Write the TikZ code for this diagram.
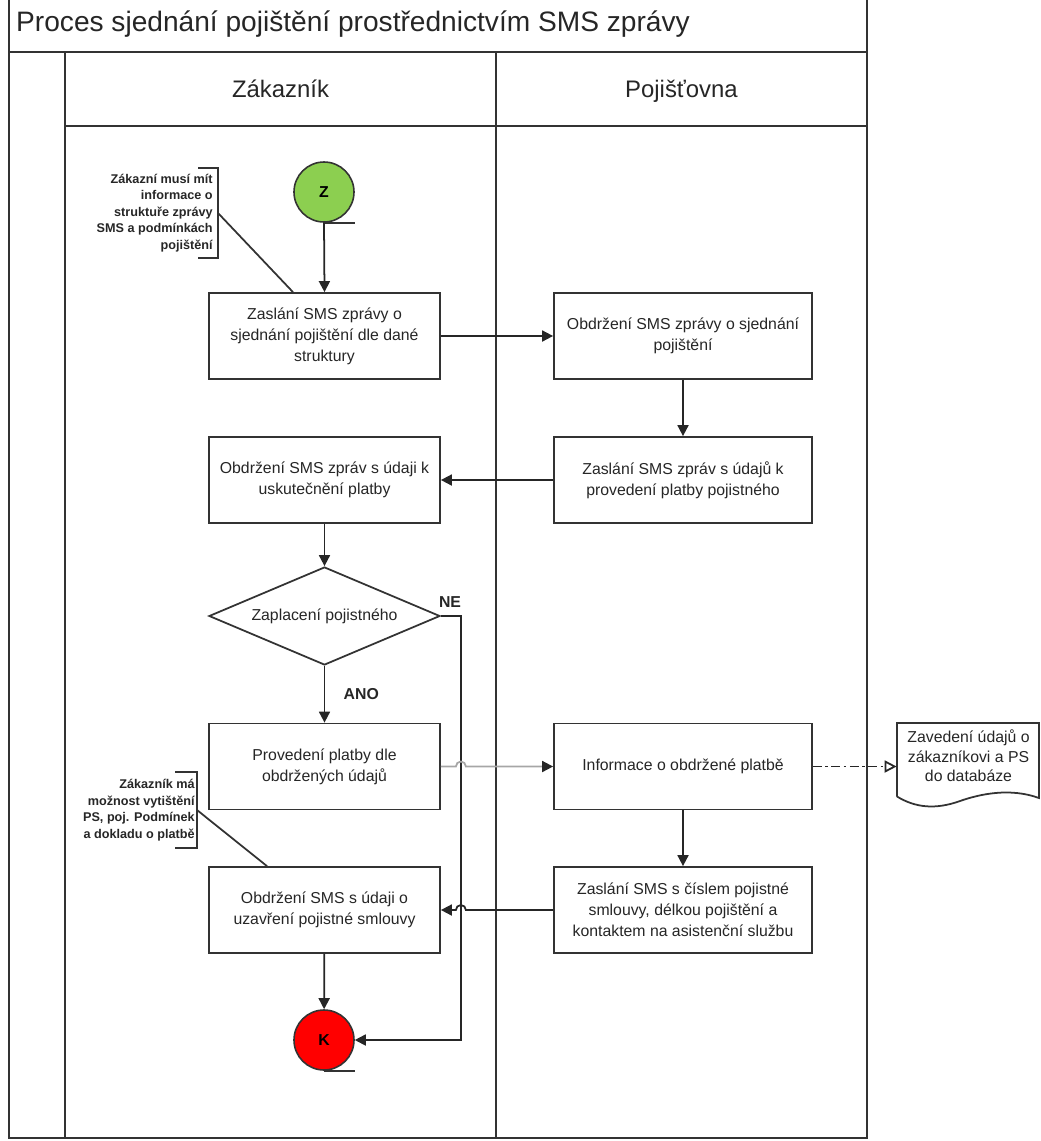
\documentclass[tikz,border=0pt]{standalone}
\usepackage{fontspec}
\setmainfont{Liberation Sans}
\usetikzlibrary{shapes.geometric,arrows.meta}

% looks used in the picture
\tikzset{
  lane/.style={draw=black!80, line width=1pt},
  lanehead/.style={anchor=base, text=black!85, font=\fontsize{13.6}{16}\selectfont},
  process/.style={draw=black!80, line width=1pt, fill=white, text=black!85,
    minimum width=4.62cm, minimum height=1.72cm, align=center,
    font=\fontsize{9}{12}\selectfont},
  wideprocess/.style={process, minimum width=5.16cm},
  decision/.style={diamond, draw=black!80, line width=1pt, fill=white, text=black!85,
    minimum width=4.62cm, minimum height=1.96cm, aspect=2.36, inner sep=0pt,
    font=\fontsize{9}{12}\selectfont},
  terminal/.style={circle, draw=black!80, line width=0.9pt, minimum size=1.2cm,
    inner sep=0pt, font=\bfseries\fontsize{9}{11}\selectfont},
  flow/.style={draw=black!85, line width=1pt, -{Triangle[length=2.2mm,width=2.2mm]}},
  note/.style={anchor=east, align=right, inner ysep=0pt, text=black!85,
    font=\bfseries\fontsize{7.2}{9.4}\selectfont},
  flowlabel/.style={text=black!85, font=\bfseries\fontsize{9}{11}\selectfont}
}

\begin{document}
\begin{tikzpicture}
    \useasboundingbox (0,0) rectangle (20.82,-22.82);

    %Pool and lanes
    \draw[lane] (0.18,0) -- (0.18,-22.76) -- (17.34,-22.76) -- (17.34,0);
    \draw[lane, line width=1.6pt] (0.18,-1.04) -- (17.34,-1.04);
    \draw[lane] (1.3,-1.04) -- (1.3,-22.76);
    \draw[lane] (9.92,-1.04) -- (9.92,-22.76);
    \draw[lane] (1.3,-2.52) -- (17.34,-2.52);
    \node[anchor=west, text=black!85, font=\fontsize{16}{19}\selectfont] (title) at (0.2,-0.48) {Proces sjednání pojištění prostřednictvím SMS zprávy};
    \node[lanehead] (zakaznik) at (5.61,-1.94) {Zákazník};
    \node[lanehead] (pojistovna) at (13.63,-1.94) {Pojišťovna};

    %Start and end
    \node[terminal, fill={rgb,255:red,140;green,207;blue,80}] (start) at (6.48,-3.84) {Z};
    \draw[lane, line width=0.8pt] (start.south) -- ++(0.62,0);
    \node[terminal, fill=red] (end) at (6.48,-20.8) {K};
    \draw[lane, line width=0.8pt] (end.south) -- ++(0.62,0);

    %Customer lane
    \node[process] (sendsms) at (6.49,-6.72) {Zaslání SMS zprávy o\\sjednání pojištění dle dané\\struktury};
    \node[process] (getpay) at (6.49,-9.6) {Obdržení SMS zpráv s údaji k\\uskutečnění platby};
    \node[decision] (paid) at (6.49,-12.32) {Zaplacení pojistného};
    \node[process] (dopay) at (6.49,-15.33) {Provedení platby dle\\obdržených údajů};
    \node[process] (getcontract) at (6.49,-18.2) {Obdržení SMS s údaji o\\uzavření pojistné smlouvy};

    %Insurer lane
    \node[wideprocess] (getsms) at (13.66,-6.72) {Obdržení SMS zprávy o sjednání\\pojištění};
    \node[wideprocess] (sendpay) at (13.66,-9.6) {Zaslání SMS zpráv s údajů k\\provedení platby pojistného};
    \node[wideprocess] (payinfo) at (13.66,-15.33) {Informace o obdržené platbě};
    \node[wideprocess] (sendcontract) at (13.66,-18.2) {Zaslání SMS s číslem pojistné\\smlouvy, délkou pojištění a\\kontaktem na asistenční službu};

    %Database document
    \node[minimum width=2.86cm, align=center, text=black!85, font=\fontsize{9}{11.2}\selectfont] (db) at (19.37,-15.12) {Zavedení údajů o\\zákazníkovi a PS\\do databáze};
    \draw[lane] (17.94,-15.93) -- (17.94,-14.46) -- (20.78,-14.46) -- (20.78,-15.96)
        .. controls (20.2,-15.75) and (19.6,-15.88) .. (19.2,-16.02)
        .. controls (18.7,-16.2) and (18.3,-16.15) .. (17.94,-15.93);

    %Notes
    \node[note, minimum height=1.8cm, inner xsep=0.1cm] (note1) at (4.36,-4.26) {Zákazní musí mít\\informace o\\struktuře zprávy\\SMS a podmínkách\\pojištění};
    \draw[lane] ([xshift=-0.4cm]note1.north east) -- (note1.north east) -- (note1.south east) -- ++(-0.4,0);
    \draw[lane] (note1.east) -- ([xshift=-0.63cm]sendsms.north);
    \node[note, minimum height=1.52cm, inner xsep=0.04cm] (note2) at (3.94,-16.2) {Zákazník má\\možnost vytištění\\PS, poj. Podmínek\\a dokladu o platbě};
    \draw[lane] ([xshift=-0.44cm]note2.north east) -- (note2.north east) -- (note2.south east) -- ++(-0.44,0);
    \draw[lane] (note2.east) -- ([xshift=-1.15cm]getcontract.north);

    %Flow
    \draw[flow] (start.south) -- (sendsms.north);
    \draw[flow] (sendsms) -- (getsms);
    \draw[flow] (getsms) -- (sendpay);
    \draw[flow] (sendpay) -- (getpay);
    \draw[flow] (getpay) -- (paid);
    \draw[flow] (paid) -- (dopay) node[flowlabel, midway, right=0.25cm] {ANO};
    \draw[flow] (paid.east) -- ++(0.4,0) |- (end.east);
    \node[flowlabel] (ne) at (9.0,-12.04) {NE};
    \draw[flow, draw=black!35, -{Triangle[length=2.2mm,width=2.2mm,color=black!85]}] (dopay.east) -- ([xshift=0.3cm]dopay.east) arc[start angle=180, end angle=0, radius=0.1] -- (payinfo.west);
    \draw[flow, dash pattern=on 5pt off 2pt on 1.5pt off 2pt, -{Triangle[open,length=2.4mm,width=2.4mm]}] (payinfo.east) -- (payinfo.east -| db.west);
    \draw[flow] (payinfo) -- (sendcontract);
    \draw[flow] (sendcontract.west) -- ([xshift=0.5cm]getcontract.east) arc[start angle=0, end angle=180, radius=0.1] -- (getcontract.east);
    \draw[flow] (getcontract) -- (end);

\end{tikzpicture}
\end{document}
